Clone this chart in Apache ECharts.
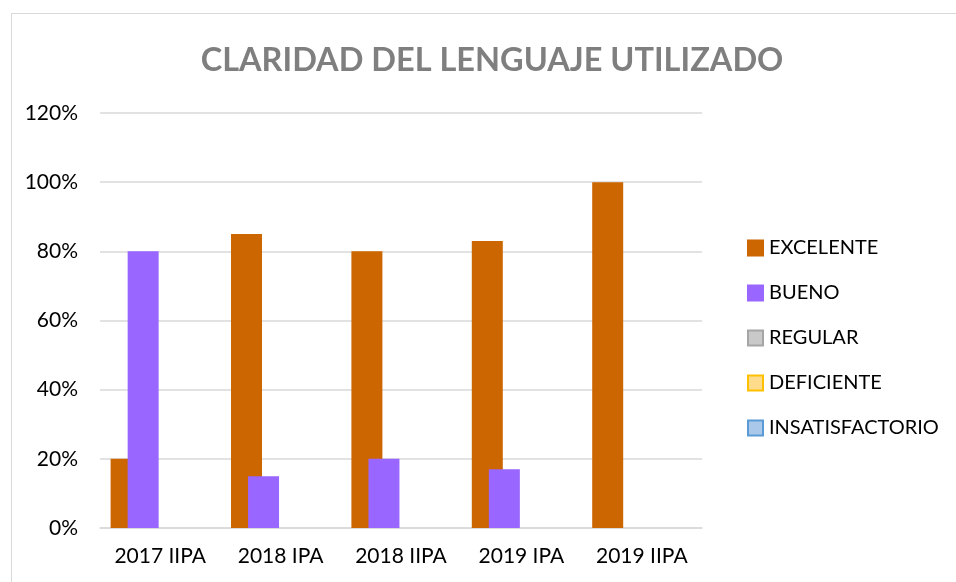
<!DOCTYPE html>
<html>
<head>
<meta charset="utf-8">
<script src="https://cdn.jsdelivr.net/npm/echarts@6/dist/echarts.min.js"></script>
<style>
  html, body { margin: 0; padding: 0; background: #fff; }
  #frame {
    position: absolute; left: 11px; top: 13px; width: 960px; height: 600px;
    border: 1px solid #d9d9d9; box-sizing: border-box;
  }
  #chart { position: absolute; left: 0; top: 0; width: 956px; height: 582px; }
</style>
</head>
<body>
<div id="frame"></div>
<div id="chart"></div>
<script>
// categorias y valores (%)
const categories = ['2017 IIPA', '2018 IPA', '2018 IIPA', '2019 IPA', '2019 IIPA']
const excelente = [20, 85, 80, 83, 100]
const bueno = [80, 15, 20, 17, 0]
const regular = [0, 0, 0, 0, 0]
const deficiente = [0, 0, 0, 0, 0]
const insatisfactorio = [0, 0, 0, 0, 0]
const yTicks = [0, 20, 40, 60, 80, 100, 120]

const seriesDefs = [
  { name: 'EXCELENTE', data: excelente, color: '#CC6600', border: '#CC6600' },
  { name: 'BUENO', data: bueno, color: '#9966FF', border: '#9966FF' },
  { name: 'REGULAR', data: regular, color: '#C9C9C9', border: '#A5A5A5' },
  { name: 'DEFICIENTE', data: deficiente, color: '#FFDC8C', border: '#FFC000' },
  { name: 'INSATISFACTORIO', data: insatisfactorio, color: '#A9C8EA', border: '#5B9BD5' }
]

const chart = echarts.init(document.getElementById('chart'))

const option = {
  animation: false,
  title: {
    text: 'CLARIDAD DEL LENGUAJE UTILIZADO',
    left: 487,
    top: 39,
    textAlign: 'center',
    textStyle: { fontFamily: 'Lato', fontSize: 32.5, fontWeight: 'bold', color: '#7F7F7F' }
  },
  legend: {
    orient: 'vertical',
    left: 742,
    top: 233,
    itemWidth: 15,
    itemHeight: 15,
    itemGap: 25,
    textStyle: { fontFamily: 'Lato', fontSize: 20, color: '#000', padding: [0, 0, 0, 1] },
    data: seriesDefs.map(s => ({
      name: s.name,
      icon: 'rect',
      itemStyle: { color: s.color, borderColor: s.border, borderWidth: 2 }
    }))
  },
  grid: { left: 100, right: 254, top: 113, bottom: 54 },
  xAxis: {
    type: 'category',
    data: categories,
    axisTick: { show: false },
    axisLine: { lineStyle: { color: '#d9d9d9', width: 1.5 } },
    axisLabel: { fontFamily: 'Lato', fontSize: 21, color: '#000', margin: 18 }
  },
  yAxis: {
    type: 'value',
    min: yTicks[0],
    max: yTicks[yTicks.length - 1],
    interval: 20,
    axisLine: { show: false },
    axisTick: { show: false },
    splitLine: { lineStyle: { color: '#d9d9d9', width: 1.5 } },
    axisLabel: { fontFamily: 'Lato', fontSize: 21, color: '#000', margin: 22, formatter: '{value}%' }
  },
  series: seriesDefs.map(s => ({
    name: s.name,
    type: 'bar',
    data: s.data,
    barWidth: 31,
    barGap: '-45%',
    itemStyle: { color: s.color }
  }))
}

chart.setOption(option)
</script>
</body>
</html>
